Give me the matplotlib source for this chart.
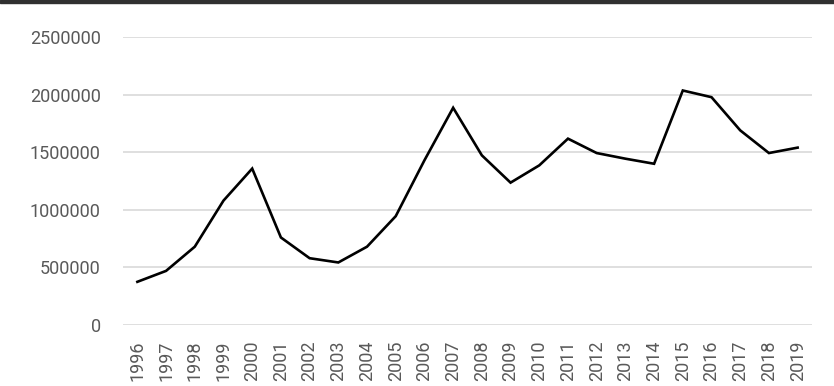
import matplotlib.pyplot as plt
from matplotlib.patches import Rectangle

# values
years = [str(y) for y in range(1996, 2020)]
values = [375000, 470000, 680000, 1080000, 1358000, 760000, 580000, 543000,
          680000, 945000, 1430000, 1886000, 1473000, 1236000, 1386000, 1618000,
          1493000, 1444000, 1400000, 2036000, 1978000, 1690000, 1493000, 1540000]
y_ticks = [0, 500000, 1000000, 1500000, 2000000, 2500000]

plt.rcParams['font.family'] = ['Roboto', 'DejaVu Sans']

fig = plt.figure(figsize=(8.34, 3.86), dpi=100)
ax = fig.add_axes([0.1475, 0.158, 0.8261, 0.746])

x = list(range(len(years)))
ax.plot(x, values, color='black', lw=1.9, solid_joinstyle='miter', zorder=3)

ax.set_xlim(-0.5, len(years) - 0.5)
ax.set_ylim(0, 2500000)
ax.set_yticks(y_ticks)
ax.set_yticklabels([str(v) for v in y_ticks])
ax.set_xticks(x)
ax.set_xticklabels(years, rotation=90)

ax.grid(axis='y', color='#d9d9d9', lw=1.2)
ax.set_axisbelow(True)
for s in ax.spines.values():
    s.set_visible(False)
ax.tick_params(axis='y', length=0, pad=16, labelsize=13, labelcolor='#595959')
ax.tick_params(axis='x', length=0, pad=11, labelsize=13, labelcolor='#595959')

# dark strip along the top edge
fig.patches.append(Rectangle((0, 1 - 3 / 386), 1, 3 / 386, transform=fig.transFigure,
                             color='#303030', zorder=10))

fig.savefig('out.png', dpi=100)
